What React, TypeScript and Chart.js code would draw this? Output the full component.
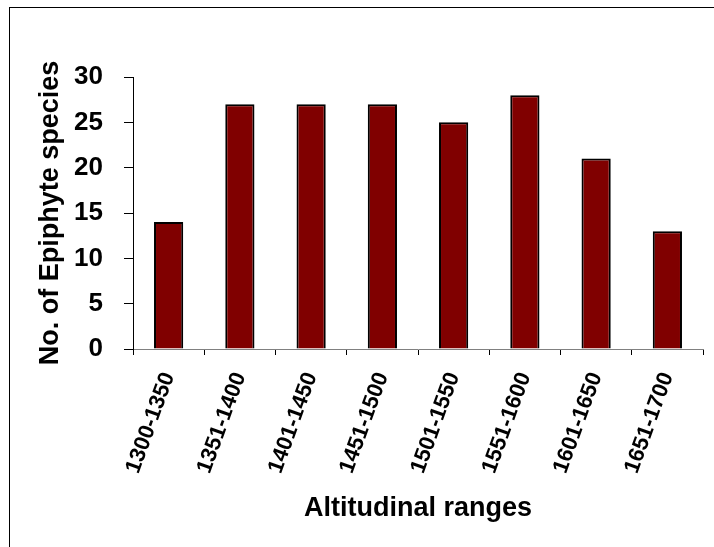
import React, { useEffect, useRef } from "react";
import { Chart, registerables } from "chart.js";

Chart.register(...registerables);

const categories = [
  "1300-1350",
  "1351-1400",
  "1401-1450",
  "1451-1500",
  "1501-1550",
  "1551-1600",
  "1601-1650",
  "1651-1700",
];
const speciesCounts = [14, 27, 27, 27, 25, 28, 21, 13];
const yTicks = [0, 5, 10, 15, 20, 25, 30];
const yTitle = "No. of Epiphyte species";
const xTitle = "Altitudinal ranges";

const FONT = "Arial, 'Liberation Sans', Helvetica, sans-serif";

export default function App() {
  const ref = useRef<HTMLCanvasElement | null>(null);

  useEffect(() => {
    const canvas = ref.current;
    if (!canvas) return;
    const chart = new Chart(canvas, {
      type: "bar",
      data: {
        labels: categories,
        datasets: [
          {
            data: speciesCounts,
            backgroundColor: "#800000",
            borderColor: "#000000",
            borderWidth: 2,
            categoryPercentage: 1,
            barPercentage: 0.41,
          },
        ],
      },
      options: {
        animation: false,
        responsive: false,
        devicePixelRatio: 1,
        layout: { padding: { left: 0, top: 77, right: 11, bottom: 0 } },
        plugins: {
          legend: { display: false },
          tooltip: { enabled: false },
          title: { display: false },
        },
        scales: {
          x: {
            grid: {
              display: true,
              drawOnChartArea: false,
              drawTicks: true,
              tickLength: 6,
              tickColor: "#000000",
              offset: true,
            },
            border: { display: true, color: "#808080", width: 1 },
            ticks: {
              color: "#000000",
              font: { family: FONT, size: 22, weight: "bold" },
              maxRotation: 70,
              minRotation: 70,
              padding: 14,
              autoSkip: false,
            },
            title: {
              display: true,
              text: xTitle,
              color: "#000000",
              font: { family: FONT, size: 27, weight: "bold" },
              padding: { top: 0, bottom: 22 },
            },
            afterFit: (scale: any) => {
              scale.height = 198;
            },
          },
          y: {
            min: 0,
            max: 30,
            afterBuildTicks: (scale: any) => {
              scale.ticks = yTicks.map((v) => ({ value: v }));
            },
            grid: {
              display: true,
              drawOnChartArea: false,
              drawTicks: true,
              tickLength: 9,
              tickColor: "#000000",
            },
            border: { display: true, color: "#000000", width: 1 },
            ticks: {
              color: "#000000",
              font: { family: FONT, size: 26, weight: "bold" },
              padding: 21,
            },
            title: {
              display: true,
              text: yTitle,
              color: "#000000",
              font: { family: FONT, size: 27, weight: "bold" },
              padding: { top: 34, bottom: 0 },
            },
            afterFit: (scale: any) => {
              scale.width = 133;
            },
          },
        },
      },
    });
    return () => chart.destroy();
  }, []);

  return (
    <div
      style={{
        position: "fixed",
        left: 0,
        top: 0,
        width: 714,
        height: 547,
        overflow: "hidden",
        background: "#ffffff",
      }}
    >
      <div
        style={{
          position: "absolute",
          left: 9,
          top: 7,
          width: 800,
          height: 700,
          borderTop: "1px solid #000",
          borderLeft: "1px solid #000",
          boxSizing: "border-box",
        }}
      />
      <canvas
        ref={ref}
        width={714}
        height={547}
        style={{ position: "absolute", left: 0, top: 0, width: 714, height: 547 }}
      />
    </div>
  );
}
